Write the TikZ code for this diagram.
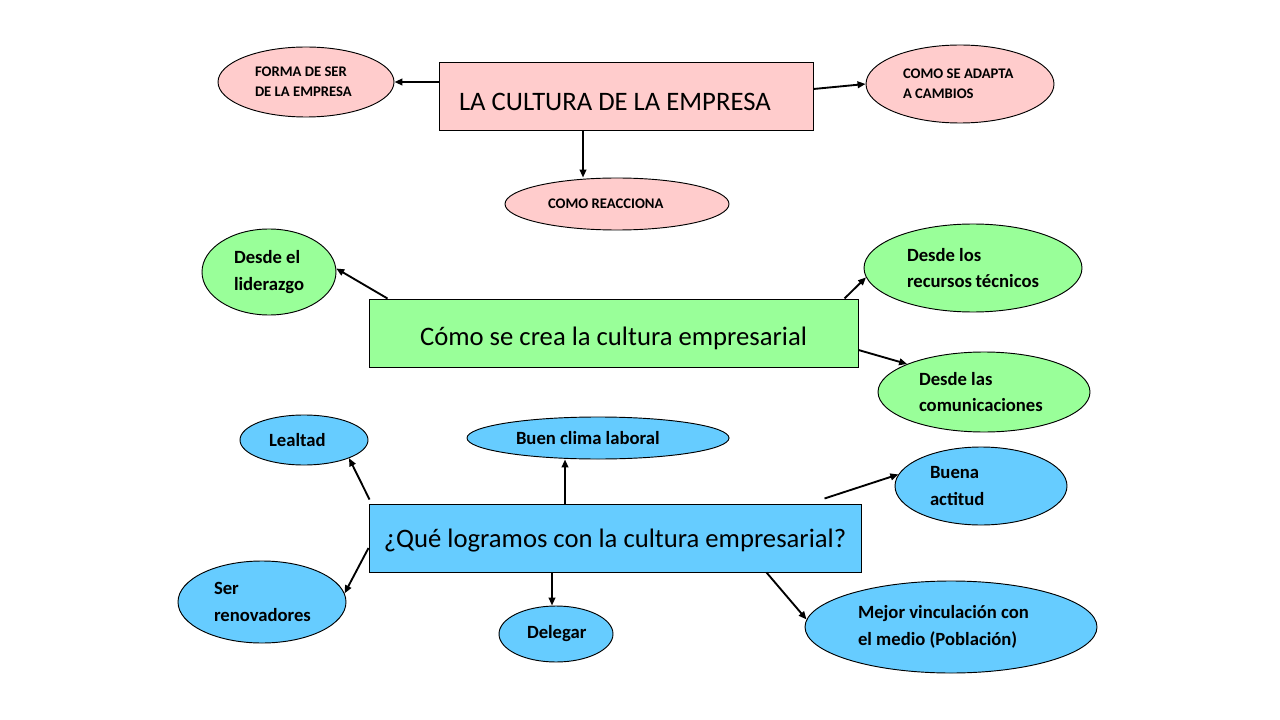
\documentclass[tikz,border=0pt]{standalone}
\usepackage{fontspec}
\setmainfont{Carlito}
\usetikzlibrary{arrows.meta,shapes.geometric}
\newdimen\pxu \pxu=0.75pt
\definecolor{pinkf}{RGB}{255,204,204}
\definecolor{greenf}{RGB}{153,255,153}
\definecolor{bluef}{RGB}{102,204,255}
\begin{document}
\begin{tikzpicture}[x=0.75pt,y=-0.75pt,
  mainbox/.style={draw=black, line width=0.75pt, inner sep=0pt, font=\fontsize{20}{24}\selectfont},
  ell/.style={ellipse, draw=black, line width=0.7pt, inner sep=0pt, align=flush left},
  smallt/.style={font=\fontsize{11}{15}\selectfont\bfseries},
  bigt/.style={font=\fontsize{14}{19.8}\selectfont\bfseries},
  arr/.style={-{Triangle[length=6pt,width=5pt]}, line width=1.4pt}]
\useasboundingbox (0,0) rectangle (1280,720);

% top group
\node[mainbox, fill=pinkf, minimum width=374\pxu, minimum height=68\pxu] (top) at (626,97)
  {\raisebox{-10.5pt}[0pt][0pt]{\makebox[334\pxu][l]{LA CULTURA DE LA EMPRESA}}};
\node[ell, smallt, fill=pinkf, minimum width=176\pxu, minimum height=70\pxu, text width=102\pxu] (forma) at (306,82) {FORMA DE SER\\DE LA EMPRESA};
\node[ell, smallt, fill=pinkf, minimum width=188\pxu, minimum height=78\pxu, text width=114\pxu] (adapta) at (960,84) {COMO SE ADAPTA\\A CAMBIOS};
\node[ell, smallt, fill=pinkf, minimum width=224\pxu, minimum height=52\pxu, text width=138\pxu] (reac) at (617,204) {COMO REACCIONA};

\draw[arr] (top.west |- forma.east) -- (forma.east);
\draw[arr] ([yshift=6pt]top.east) -- (adapta.west);
\draw[arr] ([xshift=-32.25pt]top.south) -- ([xshift=-32.25pt]top.south |- reac.north);

% green group
\node[mainbox, fill=greenf, minimum width=489\pxu, minimum height=68\pxu] (green) at (613.5,333)
  {\raisebox{-9pt}[0pt][0pt]{Cómo se crea la cultura empresarial}};
\node[ell, bigt, fill=greenf, minimum width=134\pxu, minimum height=86\pxu, text width=70\pxu] (lider) at (269,272) {Desde el\\liderazgo};
\node[ell, bigt, fill=greenf, minimum width=218\pxu, minimum height=88\pxu, text width=132\pxu] (recur) at (973,268) {Desde los\\recursos técnicos};
\node[ell, bigt, fill=greenf, minimum width=212\pxu, minimum height=80\pxu, text width=130\pxu] (comm) at (984,392) {Desde las\\comunicaciones};

\draw[arr] ([xshift=14.25pt]green.north west) -- (lider.3);
\draw[arr] ([xshift=-10.5pt]green.north east) -- (recur.185);
\draw[arr] ([yshift=-12.75pt]green.east) -- (comm.160);

% blue group
\node[mainbox, fill=bluef, minimum width=492\pxu, minimum height=68\pxu] (blue) at (615,538)
  {\raisebox{-6.75pt}[0pt][0pt]{¿Qué logramos con la cultura empresarial?}};
\node[ell, bigt, fill=bluef, minimum width=128\pxu, minimum height=50\pxu, text width=70\pxu] (leal) at (304,440) {Lealtad};
\node[ell, bigt, fill=bluef, minimum width=262\pxu, minimum height=42\pxu, text width=164\pxu] (clima) at (598,438) {Buen clima laboral};
\node[ell, bigt, fill=bluef, minimum width=172\pxu, minimum height=78\pxu, text width=102\pxu] (actitud) at (981,486) {Buena\\actitud};
\node[ell, bigt, fill=bluef, minimum width=168\pxu, minimum height=82\pxu, text width=96\pxu] (renov) at (262,602) {Ser\\renovadores};
\node[ell, bigt, fill=bluef, minimum width=114\pxu, minimum height=56\pxu, text width=58\pxu] (deleg) at (556,634) {Delegar};
\node[ell, bigt, fill=bluef, minimum width=292\pxu, minimum height=92\pxu, text width=186\pxu] (mejor) at (951,627) {Mejor vinculación con\\el medio (Población)};

\draw[arr] ([xshift=0.75pt,yshift=3pt]blue.north west) -- (leal.-22);
\draw[arr] ([xshift=-37.5pt]blue.north) -- ([xshift=-37.5pt]blue.north |- clima.south);
\draw[arr] ([xshift=-27.75pt,yshift=3.75pt]blue.north east) -- (actitud.172);
\draw[arr] ([yshift=-7.5pt]blue.west) -- (renov.6);
\draw[arr] ([xshift=-47.25pt]blue.south) -- ([xshift=-47.25pt]blue.south |- deleg.north);
\draw[arr] ([xshift=-71.25pt]blue.south east) -- (mejor.177);
\end{tikzpicture}
\end{document}
